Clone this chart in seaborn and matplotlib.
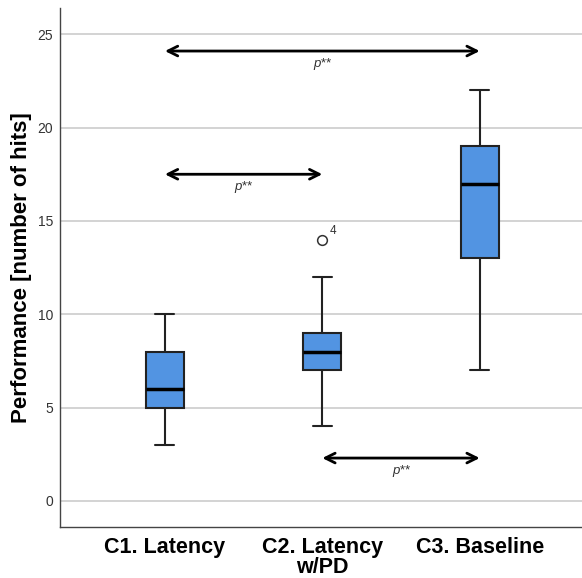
import matplotlib
matplotlib.use("Agg")
import matplotlib.pyplot as plt
import seaborn as sns
import pandas as pd

# ---- data ----
categories = ["C1. Latency", "C2. Latency\nw/PD", "C3. Baseline"]
c1_values = [3, 5, 5, 6, 6, 7, 8, 8, 10]
c2_values = [4, 6, 7, 7, 8, 8, 8, 8, 9, 9, 10, 12, 14]
c3_values = [7, 10, 13, 15, 17, 18, 19, 20, 22]
outlier_value = 14
outlier_label = "4"
yticks = [0, 5, 10, 15, 20, 25]
comp_from = [0, 0, 1]
comp_to = [2, 1, 2]
comp_y = [24.1, 17.5, 2.3]
comp_text = ["p**", "p**", "p**"]

groups = [c1_values, c2_values, c3_values]
df = pd.DataFrame({
    "group": [c for c, vals in zip(categories, groups) for _ in vals],
    "value": [v for vals in groups for v in vals],
})

sns.set_style("white")
plt.rcParams["font.family"] = ["Liberation Sans", "DejaVu Sans"]

fig = plt.figure(figsize=(5.82, 5.78), dpi=100)
ax = fig.add_axes([0.103, 0.088, 0.897, 0.898])

ax.grid(axis="y", color="#d0d0d0", linewidth=1.3, zorder=0)
ax.set_axisbelow(True)

sns.boxplot(
    data=df, x="group", y="value", order=categories, ax=ax,
    color="#5294E2", saturation=1, width=0.24, linewidth=1.5,
    linecolor="#222222", whis=1.5,
    medianprops=dict(color="black", linewidth=2.5),
    flierprops=dict(marker="o", markerfacecolor="white",
                    markeredgecolor="#333333", markersize=7, markeredgewidth=1.1),
)

ax.text(1.045, outlier_value + 0.15, outlier_label, fontsize=8.5, color="#333333",
        ha="left", va="bottom")

for a, b, y, t in zip(comp_from, comp_to, comp_y, comp_text):
    ax.annotate("", xy=(b, y), xytext=(a, y),
                arrowprops=dict(arrowstyle="<->,head_length=0.7,head_width=0.35",
                                lw=2, color="black", shrinkA=0, shrinkB=0))
    ax.text((a + b) / 2, y - 0.35, t, fontsize=9.5, style="italic",
            color="#333333", ha="center", va="top")

ax.set_xlim(-0.667, 2.65)
ax.set_ylim(-1.4, 26.4)
ax.set_yticks(yticks)
ax.set_yticklabels([str(v) for v in yticks], fontsize=10, color="#333333")
ax.set_xticks(range(len(categories)))
ax.set_xticklabels(categories, fontsize=15.5, fontweight="bold", color="black",
                   linespacing=0.95)
ax.tick_params(axis="x", length=0, pad=7)
ax.tick_params(axis="y", length=0, pad=5)
ax.set_xlabel("")
ax.set_ylabel("Performance [number of hits]", fontsize=16, fontweight="bold",
              color="black", labelpad=4)

for s in ["top", "right"]:
    ax.spines[s].set_visible(False)
for s in ["left", "bottom"]:
    ax.spines[s].set_color("#444444")
    ax.spines[s].set_linewidth(1.0)

fig.savefig("out.png", dpi=100)
